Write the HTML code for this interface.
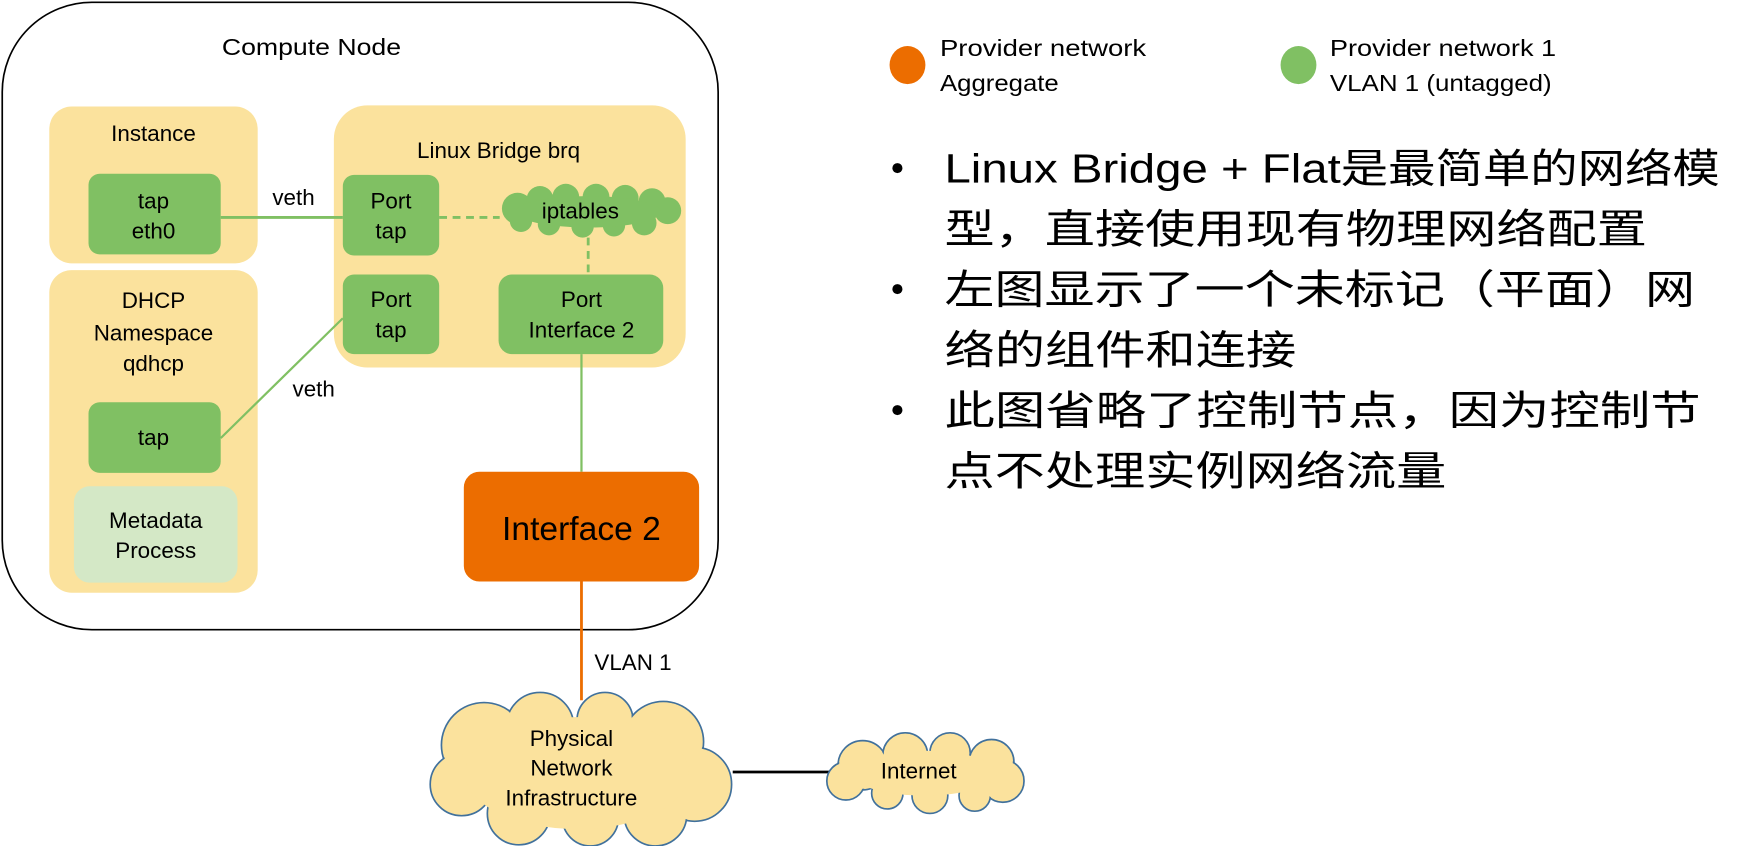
<!DOCTYPE html>
<html><head><meta charset="utf-8"><style>
html,body{margin:0;padding:0;background:#fff;}
svg{display:block;}
text{font-family:"Liberation Sans","Noto Sans CJK SC",sans-serif;fill:#000;}
</style></head><body>
<svg width="1750" height="846" viewBox="0 0 1562 755" xmlns="http://www.w3.org/2000/svg">
<rect x="2" y="2" width="639" height="560" rx="80" fill="#fff" stroke="#000" stroke-width="1.5"/>
<text x="278" y="49" font-size="21" text-anchor="middle" textLength="160" lengthAdjust="spacingAndGlyphs">Compute Node</text>
<!-- Instance -->
<rect x="44" y="95" width="186" height="140" rx="20" fill="#FBE29D"/>
<text x="137" y="126" font-size="20" text-anchor="middle">Instance</text>
<rect x="79" y="155" width="118" height="72" rx="10" fill="#80C063"/>
<text x="137" y="186" font-size="20" text-anchor="middle">tap</text>
<text x="137" y="213" font-size="20" text-anchor="middle">eth0</text>
<!-- DHCP -->
<rect x="44" y="241" width="186" height="288" rx="20" fill="#FBE29D"/>
<text x="137" y="275" font-size="20" text-anchor="middle">DHCP</text>
<text x="137" y="304" font-size="20" text-anchor="middle">Namespace</text>
<text x="137" y="331" font-size="20" text-anchor="middle">qdhcp</text>
<rect x="79" y="359" width="118" height="63" rx="10" fill="#80C063"/>
<text x="137" y="397" font-size="20" text-anchor="middle">tap</text>
<rect x="66" y="434" width="146" height="86" rx="14" fill="#D4E8C6"/>
<text x="139" y="471" font-size="20" text-anchor="middle">Metadata</text>
<text x="139" y="498" font-size="20" text-anchor="middle">Process</text>
<!-- Linux Bridge -->
<rect x="298" y="94" width="314" height="234" rx="30" fill="#FBE29D"/>
<text x="445" y="141" font-size="20" text-anchor="middle">Linux Bridge brq</text>
<rect x="306" y="156" width="86" height="72" rx="10" fill="#80C063"/>
<text x="349" y="186" font-size="20" text-anchor="middle">Port</text>
<text x="349" y="213" font-size="20" text-anchor="middle">tap</text>
<rect x="306" y="245" width="86" height="71" rx="10" fill="#80C063"/>
<text x="349" y="274" font-size="20" text-anchor="middle">Port</text>
<text x="349" y="301" font-size="20" text-anchor="middle">tap</text>
<rect x="445" y="245" width="147" height="71" rx="12" fill="#80C063"/>
<text x="519" y="274" font-size="20" text-anchor="middle">Port</text>
<text x="519" y="301" font-size="20" text-anchor="middle">Interface 2</text>
<!-- iptables cloud -->
<g fill="#80C063">
<circle cx="462" cy="186" r="14"/>
<circle cx="482" cy="178" r="12"/>
<circle cx="505" cy="176" r="12"/>
<circle cx="532" cy="176" r="12"/>
<circle cx="558" cy="177" r="12"/>
<circle cx="582" cy="180" r="12"/>
<circle cx="596" cy="188" r="12"/>
<circle cx="575" cy="199" r="11"/>
<circle cx="548" cy="201" r="10"/>
<circle cx="520" cy="202" r="10"/>
<circle cx="490" cy="200" r="10"/>
<circle cx="465" cy="197" r="10"/>
<ellipse cx="525" cy="189" rx="65" ry="14"/>
</g>
<text x="518" y="195" font-size="20" text-anchor="middle">iptables</text>
<!-- lines -->
<line x1="197" y1="194" x2="306" y2="194" stroke="#80C063" stroke-width="2.5"/>
<text x="262" y="183" font-size="20" text-anchor="middle">veth</text>
<line x1="392" y1="194" x2="446" y2="194" stroke="#80C063" stroke-width="2.5" stroke-dasharray="7,5"/>
<line x1="525" y1="212" x2="525" y2="245" stroke="#80C063" stroke-width="2.5" stroke-dasharray="7,5"/>
<line x1="197" y1="391" x2="306" y2="284" stroke="#80C063" stroke-width="2"/>
<text x="280" y="354" font-size="20" text-anchor="middle">veth</text>
<line x1="519" y1="316" x2="519" y2="421" stroke="#80C063" stroke-width="2"/>
<!-- Interface 2 -->
<rect x="414" y="421" width="210" height="98" rx="14" fill="#EC6D00"/>
<text x="519" y="482" font-size="30" text-anchor="middle">Interface 2</text>
<line x1="519" y1="519" x2="519" y2="625" stroke="#EC6D00" stroke-width="2.5"/>
<text x="565" y="598" font-size="20" text-anchor="middle">VLAN 1</text>
<!-- Physical cloud -->
<g fill="#FBE29D" stroke="#41719C" stroke-width="1.5">
<circle cx="432" cy="665" r="38"/><circle cx="482" cy="648" r="30"/><circle cx="540" cy="643" r="25"/>
<circle cx="592" cy="662" r="36"/><circle cx="620" cy="700" r="33"/><circle cx="585" cy="727" r="28"/>
<circle cx="527" cy="730" r="25"/><circle cx="463" cy="726" r="28"/><circle cx="412" cy="700" r="28"/>
</g>
<g fill="#FBE29D">
<circle cx="432" cy="665" r="37"/><circle cx="482" cy="648" r="29"/><circle cx="540" cy="643" r="24"/>
<circle cx="592" cy="662" r="35"/><circle cx="620" cy="700" r="32"/><circle cx="585" cy="727" r="27"/>
<circle cx="527" cy="730" r="24"/><circle cx="463" cy="726" r="27"/><circle cx="412" cy="700" r="27"/>
<ellipse cx="515" cy="690" rx="100" ry="50"/>
</g>
<text x="510" y="666" font-size="20" text-anchor="middle">Physical</text>
<text x="510" y="692" font-size="20" text-anchor="middle">Network</text>
<text x="510" y="719" font-size="20" text-anchor="middle">Infrastructure</text>
<line x1="654" y1="689" x2="740" y2="689" stroke="#000" stroke-width="2.5"/>
<!-- Internet cloud -->
<g fill="#FBE29D" stroke="#41719C" stroke-width="1.5">
<circle cx="770" cy="683" r="22"/><circle cx="808" cy="674" r="20"/><circle cx="848" cy="672" r="18"/>
<circle cx="885" cy="680" r="20"/><circle cx="895" cy="697" r="19"/><circle cx="870" cy="710" r="14"/>
<circle cx="830" cy="710" r="16"/><circle cx="792" cy="708" r="14"/><circle cx="755" cy="697" r="17"/>
</g>
<g fill="#FBE29D">
<circle cx="770" cy="683" r="21"/><circle cx="808" cy="674" r="19"/><circle cx="848" cy="672" r="17"/>
<circle cx="885" cy="680" r="19"/><circle cx="895" cy="697" r="18"/><circle cx="870" cy="710" r="13"/>
<circle cx="830" cy="710" r="15"/><circle cx="792" cy="708" r="13"/><circle cx="755" cy="697" r="16"/>
<ellipse cx="825" cy="690" rx="65" ry="20"/>
</g>
<text x="820" y="695" font-size="20" text-anchor="middle">Internet</text>
<!-- legend -->
<ellipse cx="810" cy="58" rx="16" ry="17" fill="#EC6D00"/>
<text x="839" y="50" font-size="21" textLength="184" lengthAdjust="spacingAndGlyphs">Provider network</text>
<text x="839" y="81" font-size="21" textLength="106" lengthAdjust="spacingAndGlyphs">Aggregate</text>
<ellipse cx="1159" cy="58" rx="16" ry="17" fill="#80C063"/>
<text x="1187" y="50" font-size="21" textLength="202" lengthAdjust="spacingAndGlyphs">Provider network 1</text>
<text x="1187" y="81" font-size="21" textLength="198" lengthAdjust="spacingAndGlyphs">VLAN 1 (untagged)</text>
<!-- bullets -->
<g font-size="36">
<circle cx="801" cy="150" r="4.5" fill="#000"/>
<text x="843" y="163" textLength="692" lengthAdjust="spacingAndGlyphs">Linux Bridge + Flat是最简单的网络模</text>
<text x="843" y="217" textLength="627" lengthAdjust="spacingAndGlyphs">型，直接使用现有物理网络配置</text>
<circle cx="801" cy="258" r="4.5" fill="#000"/>
<text x="843" y="271" textLength="670" lengthAdjust="spacingAndGlyphs">左图显示了一个未标记（平面）网</text>
<text x="843" y="325" textLength="314" lengthAdjust="spacingAndGlyphs">络的组件和连接</text>
<circle cx="801" cy="366" r="4.5" fill="#000"/>
<text x="843" y="379" textLength="675" lengthAdjust="spacingAndGlyphs">此图省略了控制节点，因为控制节</text>
<text x="843" y="433" textLength="448" lengthAdjust="spacingAndGlyphs">点不处理实例网络流量</text>
</g>
</svg>
</body></html>
